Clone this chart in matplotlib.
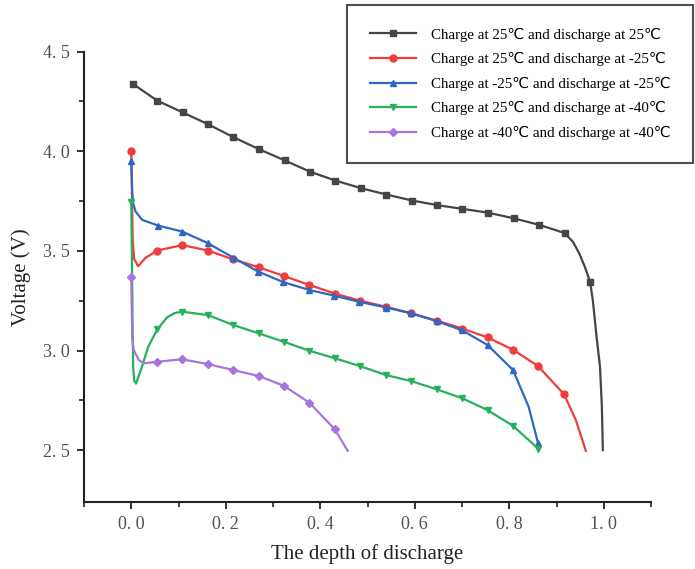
import numpy as np
import matplotlib
matplotlib.use('Agg')
import matplotlib.pyplot as plt
from matplotlib.ticker import FixedLocator, FuncFormatter

# values (depth of discharge, voltage)
# marker points of each curve
x_25_25 = [0.003, 0.055, 0.109, 0.163, 0.216, 0.270, 0.325, 0.379, 0.432, 0.486,
           0.540, 0.594, 0.647, 0.701, 0.755, 0.809, 0.863, 0.917, 0.971]
v_25_25 = [4.339, 4.254, 4.195, 4.135, 4.071, 4.011, 3.954, 3.897, 3.853, 3.815,
           3.783, 3.753, 3.730, 3.711, 3.692, 3.664, 3.631, 3.590, 3.346]
# extra points on the steep parts of the curve (no marker)
x_25_25_tail = [0.935, 0.948, 0.960, 0.977, 0.984, 0.992, 0.996, 0.998]
v_25_25_tail = [3.545, 3.488, 3.420, 3.250, 3.086, 2.919, 2.718, 2.500]

x_25_m25 = [0.0, 0.055, 0.108, 0.162, 0.215, 0.270, 0.323, 0.377, 0.431, 0.484,
            0.539, 0.592, 0.647, 0.701, 0.754, 0.808, 0.861, 0.916]
v_25_m25 = [4.003, 3.502, 3.529, 3.502, 3.458, 3.418, 3.374, 3.329, 3.286, 3.250,
            3.220, 3.187, 3.150, 3.110, 3.066, 3.004, 2.922, 2.780]
x_25_m25_tail = [0.003, 0.006, 0.0145, 0.03, 0.941, 0.962]
v_25_m25_tail = [3.560, 3.460, 3.423, 3.465, 2.651, 2.497]

x_m25_m25 = [0.0, 0.057, 0.108, 0.162, 0.216, 0.269, 0.322, 0.377, 0.430, 0.482,
             0.539, 0.592, 0.647, 0.699, 0.754, 0.808, 0.861]
v_m25_m25 = [3.949, 3.627, 3.597, 3.539, 3.466, 3.396, 3.343, 3.304, 3.275, 3.245,
             3.216, 3.187, 3.147, 3.103, 3.028, 2.902, 2.534]
x_m25_m25_tail = [0.002, 0.004, 0.009, 0.023, 0.841, 0.852]
v_m25_m25_tail = [3.800, 3.740, 3.698, 3.656, 2.718, 2.617]

x_25_m40 = [0.0, 0.055, 0.108, 0.162, 0.216, 0.270, 0.323, 0.377, 0.431, 0.484,
            0.539, 0.592, 0.647, 0.701, 0.754, 0.808, 0.861]
v_25_m40 = [3.748, 3.106, 3.195, 3.178, 3.128, 3.086, 3.044, 2.999, 2.961, 2.922,
            2.877, 2.847, 2.805, 2.760, 2.701, 2.622, 2.508]
x_25_m40_tail = [0.003, 0.004, 0.006, 0.010, 0.020, 0.036, 0.076, 0.092]
v_25_m40_tail = [3.100, 2.920, 2.850, 2.834, 2.900, 3.020, 3.167, 3.188]

x_m40_m40 = [0.0, 0.055, 0.108, 0.162, 0.216, 0.270, 0.323, 0.377, 0.431]
v_m40_m40 = [3.371, 2.944, 2.956, 2.932, 2.902, 2.872, 2.823, 2.738, 2.604]
x_m40_m40_tail = [0.002, 0.005, 0.016, 0.027, 0.458]
v_m40_m40_tail = [3.061, 3.003, 2.952, 2.936, 2.497]

labels = ['Charge at 25℃ and discharge at 25℃',
          'Charge at 25℃ and discharge at -25℃',
          'Charge at -25℃ and discharge at -25℃',
          'Charge at 25℃ and discharge at -40℃',
          'Charge at -40℃ and discharge at -40℃']

series = [
    (x_25_25, v_25_25, x_25_25_tail, v_25_25_tail, '#454545', 's'),
    (x_25_m25, v_25_m25, x_25_m25_tail, v_25_m25_tail, '#f03c3c', 'o'),
    (x_m25_m25, v_m25_m25, x_m25_m25_tail, v_m25_m25_tail, '#2d68c2', '^'),
    (x_25_m40, v_25_m40, x_25_m40_tail, v_25_m40_tail, '#27b15c', 'v'),
    (x_m40_m40, v_m40_m40, x_m40_m40_tail, v_m40_m40_tail, '#a574dc', 'D'),
]

plt.rcParams['font.family'] = ['Liberation Serif', 'DejaVu Sans']

fig = plt.figure(figsize=(6.95, 5.69), dpi=100)
ax = fig.add_axes([0.1209, 0.1178, 0.8158, 0.7914])

for (xm, ym, xt, yt, col, mk), lab in zip(series, labels):
    xs = np.array(list(xm) + list(xt))
    ys = np.array(list(ym) + list(yt))
    order = np.argsort(xs, kind='stable')
    xs, ys = xs[order], ys[order]
    # indices of the marker points after sorting
    idx = [int(np.where(order == i)[0][0]) for i in range(len(xm))]
    ms = 4.2 if mk in ('s', 'D') else 5
    ax.plot(xs, ys, color=col, lw=1.6, marker=mk, markersize=ms,
            markevery=idx, label=lab)

ax.set_xlim(-0.1, 1.1)
ax.set_ylim(2.24, 4.5)
ax.set_xticks([0.0, 0.2, 0.4, 0.6, 0.8, 1.0])
ax.set_yticks([2.5, 3.0, 3.5, 4.0, 4.5])
ax.xaxis.set_minor_locator(FixedLocator([-0.1, 0.1, 0.3, 0.5, 0.7, 0.9, 1.1]))
ax.yaxis.set_minor_locator(FixedLocator([2.75, 3.25, 3.75, 4.25]))
fmt = FuncFormatter(lambda v, p: f'{v:.1f}'.replace('.', '. '))
ax.xaxis.set_major_formatter(fmt)
ax.yaxis.set_major_formatter(fmt)

ax.spines['top'].set_visible(False)
ax.spines['right'].set_visible(False)
for s in ('left', 'bottom'):
    ax.spines[s].set_linewidth(1.5)
    ax.spines[s].set_color('#222222')
ax.tick_params(which='major', direction='out', length=5, width=1.3,
               labelsize=13, labelcolor='#50505a', color='#222222', pad=5)
ax.tick_params(which='minor', direction='out', length=3.5, width=1.2, color='#222222')

ax.set_xlabel('The depth of discharge', fontsize=15, color='#222222', labelpad=8)
ax.set_ylabel('Voltage (V)', fontsize=15, color='#222222', labelpad=9)

leg = fig.legend(loc='upper left', bbox_to_anchor=(347 / 695, 1 - 5 / 569),
                 fontsize=10.8, frameon=True, fancybox=False, edgecolor='#222222',
                 handlelength=3.1, handletextpad=1.0, borderpad=1.5,
                 labelspacing=0.7, borderaxespad=0)
leg.get_frame().set_linewidth(1.5)

fig.savefig('out.png', dpi=100)
